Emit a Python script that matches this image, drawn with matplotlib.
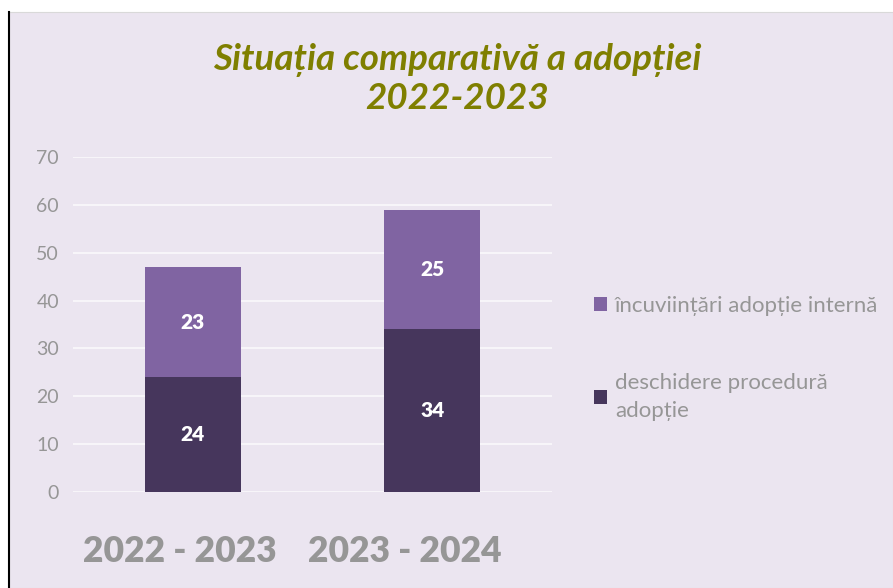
import matplotlib
matplotlib.use("Agg")
import matplotlib.pyplot as plt
from matplotlib.patches import Rectangle
from matplotlib.transforms import ScaledTranslation
import numpy as np

categories = ["2022 - 2023", "2023 - 2024"]
deschidere = [24, 34]
incuviintari = [23, 25]
series_names = ["deschidere procedură\nadopție", "încuviințări adopție internă"]
yticks = [0, 10, 20, 30, 40, 50, 60, 70]
title = "Situația comparativă a adopției\n2022-2023"

BG = "#EBE5F0"
C_BOTTOM = "#46365C"
C_TOP = "#8064A2"
GRAY = "#969696"

plt.rcParams['font.family'] = ['Lato', 'DejaVu Sans']

W, H = 893, 588
fig = plt.figure(figsize=(W / 100, H / 100), dpi=100)
fig.patch.set_facecolor("white")
# panel background
fig.patches.append(Rectangle((9 / W, 0), 1 - 9 / W, 1 - 12 / H, transform=fig.transFigure,
                             facecolor=BG, edgecolor="#D9D9D9", linewidth=0.8, zorder=-10))
fig.lines.append(plt.Line2D([8.5 / W, 8.5 / W], [0, 1 - 12 / H], transform=fig.transFigure,
                            color="black", linewidth=1.5, zorder=-5))

ax = fig.add_axes([73 / W, (H - 492) / H, 479 / W, (492 - 157) / H])
ax.set_facecolor("none")
x = np.arange(len(categories))
b1 = ax.bar(x, deschidere, width=0.4, color=C_BOTTOM, label=series_names[0], zorder=3)
b2 = ax.bar(x, incuviintari, width=0.4, bottom=deschidere, color=C_TOP, label=series_names[1], zorder=3)
ax.bar_label(b1, label_type="center", color="white", fontsize=15, fontweight="heavy")
ax.bar_label(b2, label_type="center", color="white", fontsize=15, fontweight="heavy")

ax.set_xlim(-0.5, 1.5)
ax.set_ylim(0, 70)
ax.set_yticks(yticks)
ax.yaxis.grid(True, color="#F7F5F9", linewidth=1.5, zorder=0)
ax.set_axisbelow(True)
for s in ax.spines.values():
    s.set_visible(False)
ax.tick_params(axis="y", length=0, pad=10, labelsize=14, labelcolor=GRAY)
ax.set_xticks(x)
ax.set_xticklabels(categories)
ax.tick_params(axis="x", length=0, pad=31, labelsize=25.5, labelcolor=GRAY)
shifts = [-0.13, -0.27]
for t, dx in zip(ax.get_xticklabels(), shifts):
    t.set_fontweight("heavy")
    t.set_transform(t.get_transform() + ScaledTranslation(dx, 0, fig.dpi_scale_trans))

fig.text(457 / W, 1 - 79 / H, title, ha="center", va="center", fontsize=26.5,
         fontweight="bold", fontstyle="italic", color="#7F7F00", linespacing=1.2)

handles = [b2, b1]
labels = [series_names[1], series_names[0]]
leg = fig.legend(handles, labels, loc="upper left", bbox_to_anchor=(574 / W, 1 - 276 / H),
                 frameon=False, fontsize=16, labelcolor=GRAY, handlelength=0.6,
                 handleheight=0.6, handletextpad=0.35, labelspacing=2.55)
for t in leg.get_texts():
    t.set_linespacing(1.5)

fig.savefig("out.png", dpi=100, facecolor=fig.get_facecolor())
